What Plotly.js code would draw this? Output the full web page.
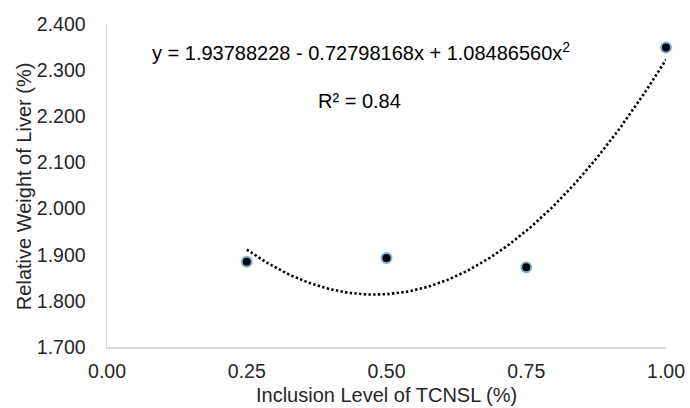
<!DOCTYPE html>
<html>
<head>
<meta charset="utf-8">
<script src="https://cdn.plot.ly/plotly-3.0.1.min.js"></script>
<style>html,body{margin:0;padding:0;background:#fff;}#chart{width:690px;height:408px;}</style>
</head>
<body>
<div id="chart"></div>
<script>
// Data
const inclusionLevel = [0.25, 0.50, 0.75, 1.00];
const liverWeight = [1.885, 1.893, 1.873, 2.349];
const xTickVals = [0, 0.25, 0.5, 0.75, 1.0];
const xTickText = ['0.00', '0.25', '0.50', '0.75', '1.00'];
const yTickVals = [1.7, 1.8, 1.9, 2.0, 2.1, 2.2, 2.3, 2.4];
const yTickText = ['1.700', '1.800', '1.900', '2.000', '2.100', '2.200', '2.300', '2.400'];
const xTitle = 'Inclusion Level of TCNSL (%)';
const yTitle = 'Relative Weight of Liver (%)';
const equationText = 'y = 1.93788228 - 0.72798168x + 1.08486560x<sup>2</sup>';
const r2Text = 'R² = 0.84';

// Least-squares quadratic trendline fitted to the data (as the spreadsheet does)
function fitQuadratic(xs, ys) {
  const n = xs.length;
  let S = [0,0,0,0,0], T = [0,0,0];
  for (let i = 0; i < n; i++) {
    let p = 1;
    for (let k = 0; k < 5; k++) { S[k] += p; p *= xs[i]; }
    T[0] += ys[i]; T[1] += ys[i]*xs[i]; T[2] += ys[i]*xs[i]*xs[i];
  }
  const A = [[S[0],S[1],S[2],T[0]],[S[1],S[2],S[3],T[1]],[S[2],S[3],S[4],T[2]]];
  for (let c = 0; c < 3; c++) {
    for (let r = c+1; r < 3; r++) {
      const f = A[r][c]/A[c][c];
      for (let k = c; k < 4; k++) A[r][k] -= f*A[c][k];
    }
  }
  const b = [0,0,0];
  for (let r = 2; r >= 0; r--) {
    let s = A[r][3];
    for (let k = r+1; k < 3; k++) s -= A[r][k]*b[k];
    b[r] = s/A[r][r];
  }
  return b;
}
const coef = fitQuadratic(inclusionLevel, liverWeight);
const xMin = Math.min(...inclusionLevel), xMax = Math.max(...inclusionLevel);
const trendX = [], trendY = [];
for (let i = 0; i <= 150; i++) {
  const x = xMin + (xMax - xMin)*i/150;
  trendX.push(x);
  trendY.push(coef[0] + coef[1]*x + coef[2]*x*x);
}

const font = 'Liberation Sans, Arial, sans-serif';
const textColor = '#262626';
const data = [
  {
    x: trendX, y: trendY, type: 'scatter', mode: 'lines',
    line: {color: '#000000', width: 2.6, dash: '2.4px,2.3px'},
    hoverinfo: 'skip', showlegend: false, cliponaxis: false
  },
  {
    x: inclusionLevel, y: liverWeight, type: 'scatter', mode: 'markers',
    marker: {color: '#000000', size: 10, line: {color: '#7DB1E0', width: 2}},
    showlegend: false, cliponaxis: false
  }
];
const layout = {
  width: 690, height: 408,
  margin: {l: 107, r: 24, t: 24, b: 61},
  paper_bgcolor: '#ffffff', plot_bgcolor: '#ffffff',
  font: {family: font, color: textColor, size: 20},
  xaxis: {
    range: [0, 1], tickvals: xTickVals, ticktext: xTickText,
    showgrid: false, zeroline: false, showline: true,
    linecolor: '#d9d9d9', linewidth: 1.5, ticks: '', ticklabelstandoff: 6,
    tickfont: {size: 19.5, color: textColor}
  },
  yaxis: {
    range: [1.7, 2.4], tickvals: yTickVals, ticktext: yTickText,
    showgrid: false, zeroline: false, showline: true,
    linecolor: '#d9d9d9', linewidth: 1.5, ticks: '', ticklabelstandoff: 16,
    tickfont: {size: 19.5, color: textColor}
  },
  annotations: [
    {xref: 'paper', yref: 'paper', x: 0.5, y: -0.149, text: xTitle,
     showarrow: false, xanchor: 'center', yanchor: 'middle', font: {size: 20, color: textColor}},
    {xref: 'paper', yref: 'paper', x: -0.1485, y: 0.498, text: yTitle, textangle: -90,
     showarrow: false, xanchor: 'center', yanchor: 'middle', font: {size: 20, color: textColor}},
    {xref: 'paper', yref: 'paper', x: 0.4544, y: 0.916, text: equationText,
     showarrow: false, xanchor: 'center', yanchor: 'middle', font: {size: 20, color: '#000000'}},
    {xref: 'paper', yref: 'paper', x: 0.451, y: 0.762, text: r2Text,
     showarrow: false, xanchor: 'center', yanchor: 'middle', font: {size: 20, color: '#000000'}}
  ]
};
Plotly.newPlot('chart', data, layout, {displayModeBar: false, staticPlot: true});
</script>
</body>
</html>
